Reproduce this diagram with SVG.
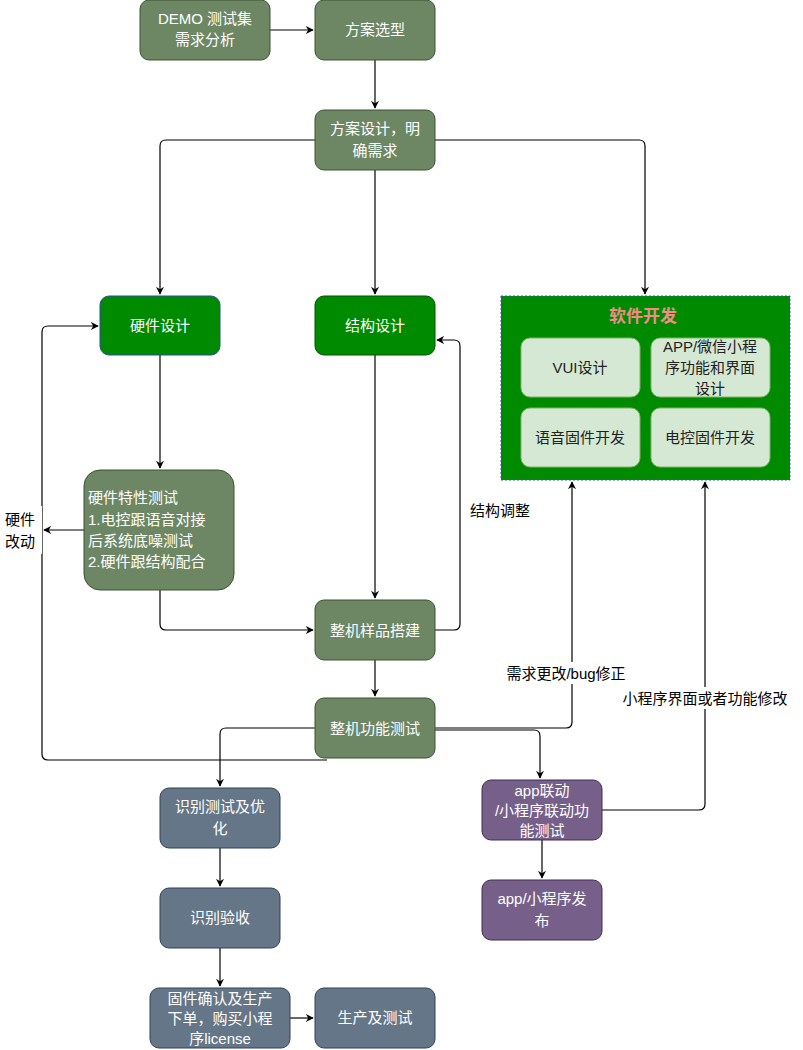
<svg xmlns="http://www.w3.org/2000/svg" width="803" height="1050" viewBox="0 0 803 1050">
<defs>
<marker id="a" viewBox="0 0 10 10" refX="9" refY="5" markerWidth="8" markerHeight="8" orient="auto" markerUnits="userSpaceOnUse"><path d="M0,0L10,5L0,10L3,5z" fill="#000"/></marker>
<style>
text{font-family:"Liberation Sans","Noto Sans CJK SC",sans-serif;font-size:15px;text-anchor:middle}
.g rect{fill:#6d8764;stroke:#3a5431}
.s rect{fill:#647687;stroke:#314354}
.p rect{fill:#76608a;stroke:#432d57}
.d rect{fill:#008a00;stroke:#005700}
.i rect{fill:#d5e8d4;stroke:#82b366}
.g text,.s text,.p text,.d text{fill:#fff}
.i text{fill:#222}
.c path{fill:none;stroke:#000;stroke-width:1.2;marker-end:url(#a)}
.l{fill:#000;font-size:15px}
</style>
</defs>
<g class="c">
<path d="M270,30H313"/>
<path d="M375,60V108"/>
<path d="M315,140H166Q160,140 160,146V294"/>
<path d="M375,170V294"/>
<path d="M435,140H639Q645,140 645,146V294"/>
<path d="M160,355V468"/>
<path d="M84,530H44"/>
<path d="M327,760H48Q42,760 42,754V332Q42,326 48,326H98"/>
<path d="M160,590V624Q160,630 166,630H313"/>
<path d="M375,355V598"/>
<path d="M435,630H454Q460,630 460,624V346Q460,340 454,340H437"/>
<path d="M375,660V696"/>
<path d="M315,728H226Q220,728 220,734V786"/>
<path d="M435,728H566Q572,728 572,722V482"/>
<path d="M435,730H534Q540,730 540,736V778"/>
<path d="M602,810H699Q705,810 705,804V482"/>
<path d="M542,840V878"/>
<path d="M220,848V886"/>
<path d="M220,948V986"/>
<path d="M290,1018H313"/>
</g>
<rect x="0" y="506" width="42" height="48" fill="#fff"/>
<text class="l" x="20" y="525">硬件</text>
<text class="l" x="20" y="547">改动</text>
<rect x="462" y="498" width="76" height="24" fill="#fff"/>
<text class="l" x="500" y="516">结构调整</text>
<rect x="500" y="662" width="146" height="22" fill="#fff"/>
<text class="l" x="566" y="679">需求更改/bug修正</text>
<rect x="604" y="687" width="200" height="22" fill="#fff"/>
<text class="l" x="705" y="704">小程序界面或者功能修改</text>
<g id="demo" class="g"><rect x="140" y="0" width="130" height="60" rx="9"/><text x="205" y="24">DEMO 测试集</text><text x="205" y="45">需求分析</text></g>
<g id="xuanxing" class="g"><rect x="315" y="0" width="120" height="60" rx="9"/><text x="375" y="35">方案选型</text></g>
<g id="sheji" class="g"><rect x="315" y="110" width="120" height="60" rx="9"/><text x="375" y="134">方案设计，明</text><text x="375" y="156">确需求</text></g>
<g id="yingjian" class="d"><rect x="100" y="296" width="120" height="59" rx="9" style="stroke:#2a4fa0"/><text x="160" y="331">硬件设计</text></g>
<g id="jiegou" class="d"><rect x="315" y="296" width="120" height="59" rx="9"/><text x="375" y="331">结构设计</text></g>
<g id="ruanjian"><rect x="501" y="296" width="289" height="184" fill="#008a00" stroke="#3355cc" stroke-dasharray="2,2"/><text x="643" y="322" style="fill:#f08c88;font-weight:bold;font-size:17px">软件开发</text></g>
<g id="vui" class="i"><rect x="521" y="338" width="119" height="59" rx="9"/><text x="580" y="373">VUI设计</text></g>
<g id="app" class="i"><rect x="651" y="338" width="119" height="59" rx="9"/><text x="710" y="352">APP/微信小程</text><text x="710" y="373">序功能和界面</text><text x="710" y="394">设计</text></g>
<g id="yuyin" class="i"><rect x="521" y="408" width="119" height="59" rx="9"/><text x="580" y="443">语音固件开发</text></g>
<g id="diankong" class="i"><rect x="651" y="408" width="119" height="59" rx="9"/><text x="710" y="443">电控固件开发</text></g>
<g id="texing" class="g"><rect x="84" y="470" width="150" height="120" rx="16"/>
<text x="88" y="503" style="text-anchor:start">硬件特性测试</text>
<text x="88" y="525" style="text-anchor:start">1.电控跟语音对接</text>
<text x="88" y="546" style="text-anchor:start">后系统底噪测试</text>
<text x="88" y="567" style="text-anchor:start">2.硬件跟结构配合</text></g>
<g id="yangpin" class="g"><rect x="315" y="600" width="120" height="60" rx="9"/><text x="375" y="636">整机样品搭建</text></g>
<g id="gongneng" class="g"><rect x="315" y="698" width="120" height="60" rx="9"/><text x="375" y="734">整机功能测试</text></g>
<g id="shibie" class="s"><rect x="160" y="788" width="120" height="60" rx="9"/><text x="220" y="812">识别测试及优</text><text x="220" y="834">化</text></g>
<g id="yanshou" class="s"><rect x="160" y="888" width="120" height="60" rx="9"/><text x="220" y="923">识别验收</text></g>
<g id="gujian" class="s"><rect x="150" y="988" width="140" height="60" rx="9"/><text x="220" y="1004">固件确认及生产</text><text x="220" y="1024">下单，购买小程</text><text x="220" y="1044">序license</text></g>
<g id="shengchan" class="s"><rect x="315" y="988" width="120" height="60" rx="9"/><text x="375" y="1023">生产及测试</text></g>
<g id="applian" class="p"><rect x="482" y="780" width="120" height="60" rx="9"/><text x="542" y="796">app联动</text><text x="542" y="816">/小程序联动功</text><text x="542" y="836">能测试</text></g>
<g id="fabu" class="p"><rect x="482" y="880" width="120" height="60" rx="9"/><text x="542" y="904">app/小程序发</text><text x="542" y="926">布</text></g>
</svg>
